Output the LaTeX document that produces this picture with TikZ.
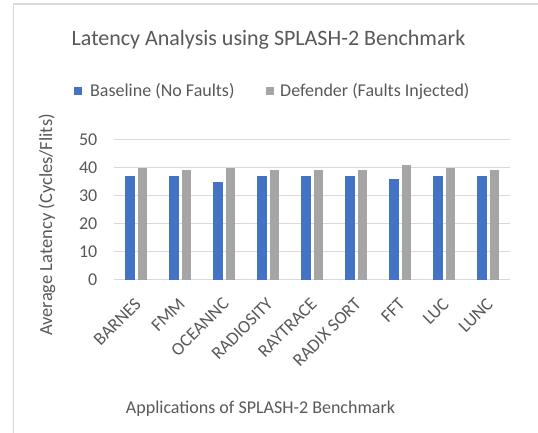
\documentclass[tikz,border=0pt]{standalone}
\usepackage{fontspec}
\setmainfont{Carlito}
\definecolor{txtgray}{HTML}{595959}
\definecolor{gridgray}{HTML}{D9D9D9}
\definecolor{framegray}{HTML}{D9D9D9}
\definecolor{basecol}{HTML}{4472C4}
\definecolor{defcol}{HTML}{A5A5A5}
\begin{document}
\begin{tikzpicture}[x=1pt,y=-1pt,
  lbl/.style={text=txtgray,font=\fontsize{18}{21}\selectfont,inner sep=0pt},
  gridline/.style={draw=gridgray,line width=1.3pt},
  basebar/.style={fill=basecol},
  defbar/.style={fill=defcol},
  catlabel/.style={lbl,rotate=45,anchor=east}]
\useasboundingbox (0,0) rectangle (538,433);
\fill[white] (0,0) rectangle (538,433);
% chart frame (top and left edges only)
\draw[framegray,line width=1.5pt] (13.5,433) -- (13.5,4) -- (538,4);
% title
\node[lbl,font=\fontsize{22}{25}\selectfont] (title) at (268.5,40) {Latency Analysis using SPLASH-2 Benchmark};
% legend
\fill[basecol] (74,87.5) rectangle (82,95.5);
\node[lbl,anchor=west] (legbase) at (90,91.5) {Baseline (No Faults)};
\fill[defcol] (266,87.5) rectangle (274,95.5);
\node[lbl,anchor=west] (legdef) at (280,91.5) {Defender (Faults Injected)};
% gridlines and value axis labels
\foreach \k in {0,...,5}{
  \draw[gridline] (114,279.5-28*\k) -- (510,279.5-28*\k);
  \pgfmathtruncatemacro{\v}{10*\k}
  \node[lbl,anchor=east] (tick\k) at (97.5,279.5-28*\k) {\v};
}
% bars and category labels
\foreach \b/\d/\name [count=\i from 0] in
  {37/40/BARNES,37/39/FMM,35/40/OCEANNC,37/39/RADIOSITY,37/39/RAYTRACE,
   37/39/RADIX SORT,36/41/FFT,37/40/LUC,37/39/LUNC}{
  \pgfmathsetmacro{\cx}{136+44*\i}
  \fill[basebar] (\cx-10.7,279.5) rectangle (\cx-0.7,279.5-2.8*\b);
  \fill[defbar] (\cx+2,279.5) rectangle (\cx+11.3,279.5-2.8*\d);
  \node[catlabel] (cat\i) at (\cx+2,301) {\name};
}
% axis titles
\node[lbl,rotate=90,font=\fontsize{18.5}{21}\selectfont] (ytitle) at (47,225) {Average Latency (Cycles/Flits)};
\node[lbl] (xtitle) at (260.5,409) {Applications of SPLASH-2 Benchmark};
\end{tikzpicture}
\end{document}
